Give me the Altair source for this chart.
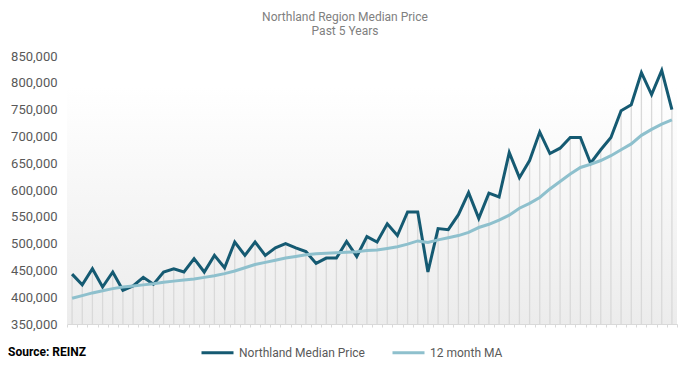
import altair as alt
import pandas as pd

# Monthly data, past 5 years (60 months)
months = list(range(1, 61))
median_price = [443000, 423000, 453000, 419000, 447000, 413000, 421000, 437000, 424000, 447000,
                453000, 447000, 472000, 447000, 478000, 455000, 503000, 478000, 503000, 478000,
                492000, 500000, 492000, 485000, 463000, 473000, 473000, 504000, 476000, 513000,
                503000, 537000, 515000, 559000, 559000, 447000, 528000, 526000, 554000, 595000,
                547000, 594000, 587000, 670000, 623000, 655000, 708000, 668000, 678000, 698000,
                698000, 650000, 675000, 698000, 748000, 759000, 819000, 778000, 823000, 750000]
ma_12 = [398000, 403000, 408000, 412000, 416000, 419000, 421000, 423000, 425000, 428000,
         430000, 432000, 434000, 437000, 440000, 444000, 449000, 455000, 461000, 465000,
         469000, 473000, 476000, 479000, 481000, 482000, 483000, 484000, 485000, 487000,
         488000, 491000, 494000, 499000, 505000, 502000, 507000, 511000, 515000, 521000,
         530000, 536000, 544000, 553000, 566000, 575000, 586000, 602000, 616000, 630000,
         642000, 648000, 655000, 664000, 675000, 686000, 702000, 713000, 723000, 731000]
series_names = ["Northland Median Price", "12 month MA"]
series_colors = ["#155a72", "#8ec0cd"]
y_ticks = list(range(350000, 850001, 50000))

df = pd.DataFrame({"month": months, "price": median_price, "ma": ma_12})

W, H = 610, 268
FONT = "Roboto"

x_enc = alt.X("month:O", scale=alt.Scale(type="band", paddingInner=0, paddingOuter=0),
              axis=alt.Axis(labels=False, title=None, ticks=True, tickSize=3, tickBand="extent",
                            tickColor="#d9d9d9", domainColor="#d9d9d9", grid=False))
y_scale = alt.Scale(domain=[350000, 850000], nice=False, zero=False)
y_axis = alt.Axis(values=y_ticks, labelExpr="format(datum.value, ',')", title=None, grid=False,
                  ticks=False, domain=False, labelPadding=10, labelFontSize=13,
                  labelColor="#595959", labelFont=FONT)

color_enc = alt.Color("series:N",
                      scale=alt.Scale(domain=series_names, range=series_colors),
                      legend=alt.Legend(title=None, orient="none", direction="horizontal",
                                        legendX=133, legendY=279, symbolType="stroke",
                                        symbolSize=1024, symbolStrokeWidth=3, labelFontSize=12,
                                        labelColor="#595959", labelFont=FONT, labelOffset=4,
                                        columnPadding=21))

bg = alt.Chart(pd.DataFrame({"a": [0]})).mark_rect(
    color=alt.Gradient(gradient="linear",
                       stops=[alt.GradientStop(color="#ffffff", offset=0),
                              alt.GradientStop(color="#ececec", offset=1)],
                       x1=0, x2=0, y1=0, y2=1)
).encode(x=alt.value(0), x2=alt.value(W), y=alt.value(31), y2=alt.value(H))

base = alt.Chart(df)

drops = base.mark_rule(color="#d9d9d9", strokeWidth=1.3).encode(
    x=x_enc,
    y=alt.Y("price:Q", scale=y_scale, axis=y_axis),
    y2=alt.datum(350000),
)

price_line = base.transform_calculate(series="'" + series_names[0] + "'").mark_line(
    strokeWidth=3).encode(
    x=x_enc,
    y=alt.Y("price:Q", scale=y_scale, axis=y_axis),
    color=color_enc,
)

ma_line = base.transform_calculate(series="'" + series_names[1] + "'").mark_line(
    strokeWidth=3).encode(
    x=x_enc,
    y=alt.Y("ma:Q", scale=y_scale, axis=y_axis),
    color=color_enc,
)

source = alt.Chart(pd.DataFrame({"t": ["Source: REINZ"]})).mark_text(
    align="left", baseline="middle", fontSize=12, fontWeight="bold", font=FONT, color="#000000"
).encode(x=alt.value(-59), y=alt.value(296), text="t:N")

chart = alt.layer(bg, drops, price_line, ma_line, source).properties(
    width=W, height=H,
    title=alt.TitleParams(text=["Northland Region Median Price", "Past 5 Years"],
                          anchor="middle", fontSize=12, fontWeight="normal", color="#808080",
                          font=FONT, offset=12, lineHeight=14, dx=-27),
    autosize=alt.AutoSizeParams(type="none"),
    padding={"left": 59, "top": 48, "right": 3, "bottom": 37},
).configure_view(stroke=None)

chart.save("out.html", embed_options={"renderer": "svg", "actions": False})
